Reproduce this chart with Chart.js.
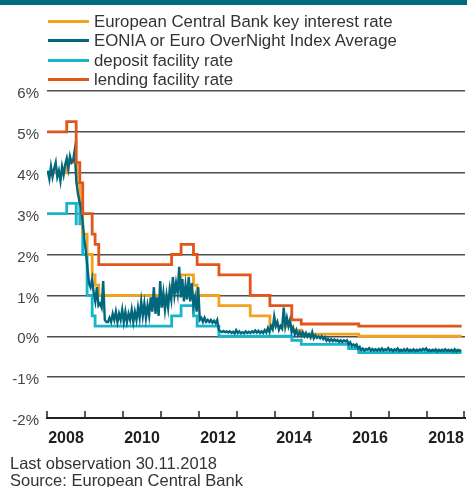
<!DOCTYPE html>
<html>
<head>
<meta charset="utf-8">
<script src="https://cdn.jsdelivr.net/npm/chart.js@4.4.1/dist/chart.umd.min.js"></script>
<style>
  body { margin: 0; background: #fff; font-family: "Liberation Sans", Arial, sans-serif; }
  #wrap { position: relative; width: 467px; height: 487px; overflow: hidden; }
  #topbar { position: absolute; left: 0; top: 0; width: 467px; height: 5px; background: #006b80; }
  #legend { position: absolute; left: 48px; top: 12px; }
  .item { height: 19.3px; line-height: 19.3px; font-size: 16.8px; color: #333; white-space: nowrap; }
  .item span { display: inline-block; width: 41px; height: 3px; vertical-align: middle; margin-right: 5px; position: relative; top: -1px; }
  #note { position: absolute; left: 10px; top: 455px; font-size: 16.5px; color: #333; line-height: 16.5px; }
  canvas { position: absolute; left: 0; top: 0; }
</style>
</head>
<body>
<div id="wrap">
  <canvas id="grafico" width="467" height="487"></canvas>
  <div id="topbar"></div>
  <div id="legend"></div>
  <div id="note">Last observation 30.11.2018<br>Source: European Central Bank</div>
</div>
<script>
// fechas de cambio de tipos oficiales
const rateDates = ['2008-01-01','2008-07-09','2008-10-08','2008-10-09','2008-10-15','2008-11-12','2008-12-10',
  '2009-01-21','2009-03-11','2009-04-08','2009-05-13','2011-04-13','2011-07-13','2011-11-09','2011-12-14',
  '2012-07-11','2013-05-08','2013-11-13','2014-06-11','2014-09-10','2015-12-09','2016-03-16','2018-11-30'];
const keyRate     = [4.00,4.25,4.25,4.25,3.75,3.25,2.50,2.00,1.50,1.25,1.00,1.25,1.50,1.25,1.00,0.75,0.50,0.25,0.15,0.05,0.05,0.00,0.00];
const depositRate = [3.00,3.25,2.75,3.25,3.25,2.75,2.00,1.00,0.50,0.25,0.25,0.50,0.75,0.50,0.25,0.00,0.00,0.00,-0.10,-0.20,-0.30,-0.40,-0.40];
const lendingRate = [5.00,5.25,4.75,4.25,4.25,3.75,3.00,3.00,2.50,2.25,1.75,2.00,2.25,2.00,1.75,1.50,1.00,0.75,0.40,0.30,0.30,0.25,0.25];

// EONIA, dos valores por mes (primera y segunda quincena) desde ene 2008
const eoniaStart = 2008;
const eonia = [
  4.05,3.85, 4.15,3.90, 4.10,4.25, 3.90,4.05, 3.80,4.15, 3.95,4.20, 4.35,4.10, 4.40,4.25, 4.30,4.55, 3.80,3.50, 3.30,3.15, 2.80,2.40,
  2.10,1.70, 1.30,1.20, 1.40,1.05, 0.85,1.20, 0.75,0.80, 0.70,1.35, 0.40,0.35, 0.35,0.45, 0.35,0.55, 0.40,0.60, 0.35,0.55, 0.40,0.65,
  0.35,0.60, 0.35,0.55, 0.40,0.65, 0.35,0.60, 0.40,0.70, 0.45,0.85, 0.50,0.80, 0.45,0.75, 0.50,0.95, 0.60,1.20, 0.55,0.95, 0.50,1.35,
  0.70,1.05, 0.65,1.00, 0.70,1.15, 0.90,1.45, 1.00,1.30, 1.05,1.70, 0.95,1.40, 0.85,1.25, 0.90,1.45, 0.85,1.30, 0.75,0.95, 0.60,1.20,
  0.40,0.45, 0.35,0.45, 0.35,0.40, 0.35,0.40, 0.33,0.38, 0.32,0.40, 0.15,0.12, 0.10,0.13, 0.10,0.12, 0.09,0.12, 0.08,0.11, 0.07,0.15,
  0.08,0.12, 0.07,0.10, 0.07,0.12, 0.08,0.11, 0.08,0.12, 0.09,0.14, 0.09,0.13, 0.08,0.12, 0.08,0.15, 0.09,0.20, 0.10,0.25, 0.17,0.48,
  0.25,0.35, 0.16,0.25, 0.19,0.70, 0.25,0.45, 0.25,0.40, 0.10,0.20, 0.04,0.15, 0.02,0.10, 0.01,0.10, 0.00,0.08, -0.01,0.05, -0.03,0.10,
  -0.05,0.02, -0.04,0.00, -0.05,0.00, -0.07,-0.02, -0.11,-0.06, -0.12,-0.07, -0.12,-0.08, -0.12,-0.09, -0.14,-0.10, -0.14,-0.10, -0.13,-0.10, -0.20,-0.15,
  -0.24,-0.20, -0.24,-0.20, -0.30,-0.26, -0.34,-0.30, -0.35,-0.31, -0.33,-0.29, -0.35,-0.31, -0.35,-0.32, -0.35,-0.31, -0.35,-0.30, -0.35,-0.32, -0.34,-0.29,
  -0.35,-0.32, -0.36,-0.32, -0.35,-0.30, -0.36,-0.33, -0.36,-0.32, -0.36,-0.31, -0.36,-0.33, -0.36,-0.32, -0.36,-0.33, -0.36,-0.32, -0.35,-0.31, -0.34,-0.30,
  -0.36,-0.33, -0.36,-0.33, -0.36,-0.32, -0.37,-0.33, -0.36,-0.33, -0.36,-0.32, -0.36,-0.33, -0.36,-0.33, -0.37,-0.32, -0.37,-0.33, -0.36,-0.33
];

const xTickYears = [2008,2009,2010,2011,2012,2013,2014,2015,2016,2017,2018,2019];
const xLabels = ['2008','2010','2012','2014','2016','2018'];

const nombres = ['European Central Bank key interest rate','EONIA or Euro OverNight Index Average','deposit facility rate','lending facility rate'];
const colores = ['#f4a11d','#00677d','#17b5cc','#e0561b'];

function anio(fecha){
    const d = new Date(fecha + 'T00:00:00Z');
    const y = d.getUTCFullYear();
    const ini = Date.UTC(y,0,1), fin = Date.UTC(y+1,0,1);
    return y + (d.getTime() - ini) / (fin - ini);
}

function pares(fechas, valores){
    return fechas.map((f,i) => ({x: anio(f), y: valores[i]}));
}

const eoniaData = eonia.map((v,i) => ({x: eoniaStart + (i + 0.5) / 24, y: v}));

// leyenda en html
document.getElementById('legend').innerHTML = nombres.map((n,i) =>
    `<div class="item"><span style="background:${colores[i]}"></span>${n}</div>`).join('');

const marcasAnio = {
    id: 'marcasAnio',
    afterDraw(chart){
        const ctx = chart.ctx, x = chart.scales.x, fondo = chart.chartArea.bottom;
        ctx.save();
        ctx.strokeStyle = '#222';
        ctx.lineWidth = 1.5;
        xTickYears.forEach(a => {
            const px = Math.min(x.getPixelForValue(a), chart.chartArea.right - 1);
            ctx.beginPath();
            ctx.moveTo(px, fondo);
            ctx.lineTo(px, fondo - 7);
            ctx.stroke();
        });
        ctx.restore();
    }
};

const ctx = document.getElementById('grafico');

new Chart(ctx, {
    type: 'line',
    data: {
        datasets: [
            { label: nombres[3], data: pares(rateDates, lendingRate), borderColor: colores[3], borderWidth: 2.8, stepped: true, order: 1 },
            { label: nombres[1], data: eoniaData, borderColor: colores[1], borderWidth: 2.4, order: 2 },
            { label: nombres[0], data: pares(rateDates, keyRate), borderColor: colores[0], borderWidth: 2.8, stepped: true, order: 3 },
            { label: nombres[2], data: pares(rateDates, depositRate), borderColor: colores[2], borderWidth: 2.8, stepped: true, order: 4 }
        ]
    },
    options: {
        responsive: false,
        animation: false,
        events: [],
        elements: { point: { radius: 0 }, line: { tension: 0 } },
        layout: { padding: { top: 91, right: 2, left: 0, bottom: 0 } },
        plugins: { legend: { display: false }, tooltip: { enabled: false } },
        scales: {
            x: {
                type: 'linear',
                min: 2008,
                max: 2019,
                afterBuildTicks: s => { s.ticks = xLabels.map(l => ({ value: Number(l) + 0.5 })); },
                afterFit: s => { s.height = 69; s.paddingLeft = 0; s.paddingRight = 0; },
                ticks: {
                    callback: (v, i) => xLabels[i],
                    autoSkip: false,
                    maxRotation: 0,
                    padding: 11,
                    color: '#1e1e1e',
                    font: { family: 'Liberation Sans', size: 16, weight: 'bold' }
                },
                grid: { display: false, drawTicks: false },
                border: { display: true, color: '#222', width: 2 }
            },
            y: {
                min: -2,
                max: 6,
                afterFit: s => { s.width = 47; },
                ticks: {
                    stepSize: 1,
                    padding: 8,
                    labelOffset: 3,
                    color: '#444',
                    callback: v => v + '%',
                    font: { family: 'Liberation Sans', size: 15 }
                },
                grid: {
                    drawTicks: false,
                    lineWidth: 1.5,
                    color: c => c.tick && c.tick.value === -2 ? 'rgba(0,0,0,0)' : '#4d4d4d'
                },
                border: { display: false }
            }
        }
    },
    plugins: [marcasAnio]
});
</script>
</body>
</html>
